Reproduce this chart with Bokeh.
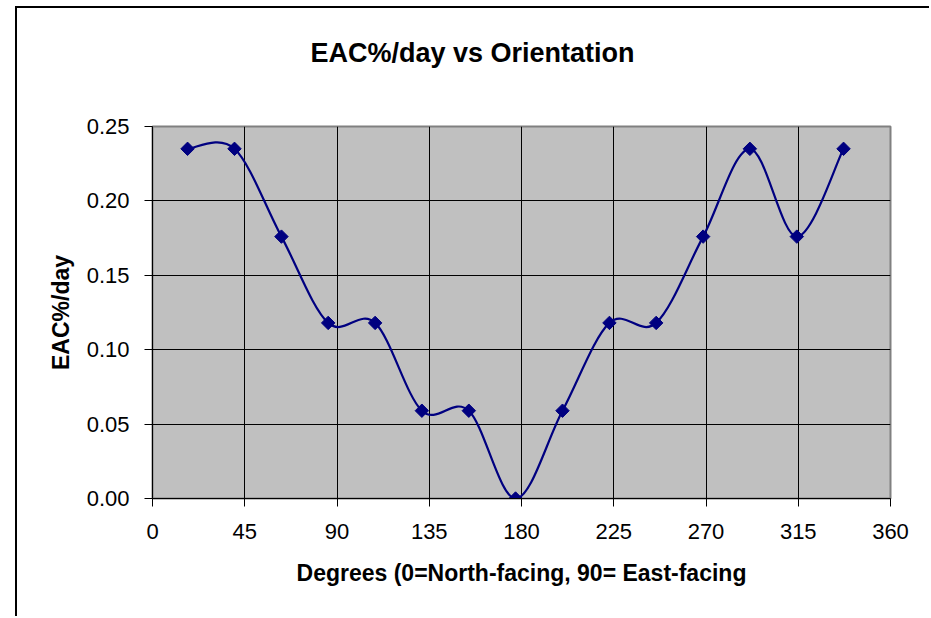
from bokeh.plotting import figure
from bokeh.models import Range1d, FixedTicker, PrintfTickFormatter, ColumnDataSource, LinearAxis
from bokeh.embed import file_html
from bokeh.resources import INLINE

# ---- data ----
degrees = [17.1, 40.0, 62.9, 85.7, 108.6, 131.4, 154.3, 177.1, 200.0, 222.9, 245.7, 268.6, 291.4, 314.3, 337.1]
eac_per_day = [0.235, 0.235, 0.176, 0.118, 0.118, 0.059, 0.059, 0.0, 0.059, 0.118, 0.118, 0.176, 0.235, 0.176, 0.235]
x_ticks = [0, 45, 90, 135, 180, 225, 270, 315, 360]
y_ticks = [0.0, 0.05, 0.10, 0.15, 0.20, 0.25]

title_text = "EAC%/day vs Orientation"
x_label = "Degrees (0=North-facing, 90= East-facing"
y_label = "EAC%/day"

FONT = "Liberation Sans"
NAVY = "#000080"

p = figure(width=914, height=610, output_backend="svg", toolbar_location=None,
           x_range=Range1d(0, 360), y_range=Range1d(0, 0.25),
           min_border_left=135, min_border_right=41, min_border_top=118, min_border_bottom=120,
           background_fill_color="#C0C0C0", border_fill_color="white")
p.margin = (6, 0, 0, 15)
p.styles = {"border-left": "2px solid black", "border-top": "2px solid black"}

xax = p.below[0]
yax = p.left[0]

# invisible spacer between the plot area and the title
spacer = LinearAxis(ticker=FixedTicker(ticks=[0]), axis_line_color=None,
                    major_tick_line_color=None, minor_tick_line_color=None,
                    major_tick_out=54, major_tick_in=0, minor_tick_out=0, minor_tick_in=0,
                    major_label_standoff=0, major_label_overrides={0: ""},
                    major_label_text_font_size="1px", major_label_text_alpha=0)
p.add_layout(spacer, "above")

p.title.text = title_text
p.title.text_color = "black"
p.title.text_font = FONT
p.title.text_font_size = "27px"
p.title.text_font_style = "bold"
p.title.align = "left"
p.title.offset = 158
p.title.standoff = 10

p.outline_line_color = "#808080"
p.outline_line_width = 2

for ax in (xax, yax):
    ax.axis_line_color = "black"
    ax.axis_line_width = 1
    ax.major_tick_line_color = "black"
    ax.major_tick_out = 8
    ax.major_tick_in = 0
    ax.minor_tick_out = 0
    ax.minor_tick_in = 0
    ax.major_label_text_font = FONT
    ax.major_label_text_font_size = "22px"
    ax.major_label_text_color = "black"
    ax.axis_label_text_font = FONT
    ax.axis_label_text_font_size = "23px"
    ax.axis_label_text_font_style = "bold"
    ax.axis_label_text_color = "black"

xax.ticker = FixedTicker(ticks=x_ticks)
yax.ticker = FixedTicker(ticks=y_ticks)
yax.formatter = PrintfTickFormatter(format="%.2f")
xax.axis_label = x_label
yax.axis_label = y_label
xax.major_label_standoff = 17
yax.major_label_standoff = 15
xax.axis_label_standoff = 18
yax.axis_label_standoff = 10

p.xgrid.ticker = FixedTicker(ticks=x_ticks)
p.ygrid.ticker = FixedTicker(ticks=y_ticks)
p.xgrid.grid_line_color = "black"
p.ygrid.grid_line_color = "black"
p.xgrid.grid_line_width = 1
p.ygrid.grid_line_width = 1

# smoothed line (Excel-style cubic Bezier through the data points)
n = len(degrees)
x0, y0, x1, y1, cx0, cy0, cx1, cy1 = [], [], [], [], [], [], [], []
for i in range(n - 1):
    pm = max(i - 1, 0)
    pn = min(i + 2, n - 1)
    x0.append(degrees[i]); y0.append(eac_per_day[i])
    x1.append(degrees[i + 1]); y1.append(eac_per_day[i + 1])
    cx0.append(degrees[i] + (degrees[i + 1] - degrees[pm]) / 6)
    cy0.append(eac_per_day[i] + (eac_per_day[i + 1] - eac_per_day[pm]) / 6)
    cx1.append(degrees[i + 1] - (degrees[pn] - degrees[i]) / 6)
    cy1.append(eac_per_day[i + 1] - (eac_per_day[pn] - eac_per_day[i]) / 6)
bez = ColumnDataSource(dict(x0=x0, y0=y0, x1=x1, y1=y1, cx0=cx0, cy0=cy0, cx1=cx1, cy1=cy1))
p.bezier(x0="x0", y0="y0", x1="x1", y1="y1", cx0="cx0", cy0="cy0", cx1="cx1", cy1="cy1",
         source=bez, line_color=NAVY, line_width=2.2)

p.scatter(degrees, eac_per_day, marker="square", angle=0.7853981634, size=9.5,
          fill_color=NAVY, line_color=NAVY)

open("out.html", "w").write(file_html(p, INLINE))
